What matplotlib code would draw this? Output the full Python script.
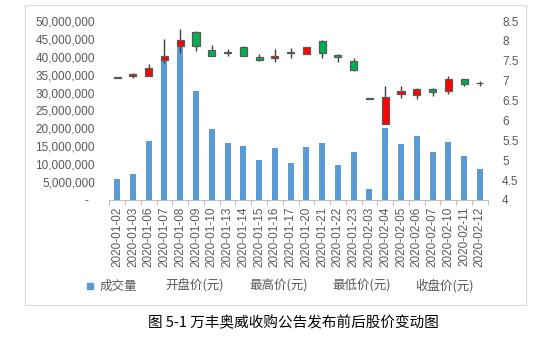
import matplotlib.pyplot as plt
import matplotlib.patches as mpatches
from matplotlib.ticker import FuncFormatter, FixedLocator

plt.rcParams['font.family'] = ['Liberation Sans', 'Noto Sans CJK SC', 'DejaVu Sans']

# 交易日
dates = ['2020-01-02', '2020-01-03', '2020-01-06', '2020-01-07', '2020-01-08', '2020-01-09',
         '2020-01-10', '2020-01-13', '2020-01-14', '2020-01-15', '2020-01-16', '2020-01-17',
         '2020-01-20', '2020-01-21', '2020-01-22', '2020-01-23', '2020-02-03', '2020-02-04',
         '2020-02-05', '2020-02-06', '2020-02-07', '2020-02-10', '2020-02-11', '2020-02-12']

# 成交量(股)
volume = [5.85e6, 7.3e6, 16.4e6, 40.1e6, 43.5e6, 30.4e6,
          19.8e6, 15.9e6, 15.2e6, 11.2e6, 14.5e6, 10.3e6,
          14.7e6, 15.8e6, 9.7e6, 13.5e6, 3.0e6, 20.1e6,
          15.7e6, 18.0e6, 13.3e6, 16.3e6, 12.2e6, 8.6e6]

# 开盘价 / 最高价 / 最低价 / 收盘价(元)
open_p = [7.07, 7.11, 7.11, 7.52, 7.86, 8.23, 7.76, 7.70, 7.85, 7.59, 7.56, 7.70,
          7.67, 8.00, 7.65, 7.50, 6.55, 5.90, 6.66, 6.64, 6.80, 6.73, 7.03, 6.93]
high_p = [7.09, 7.19, 7.42, 8.06, 8.31, 8.25, 7.89, 7.80, 7.87, 7.67, 7.79, 7.81,
          7.85, 8.03, 7.66, 7.58, 6.55, 6.86, 6.86, 6.81, 6.81, 7.12, 7.03, 6.98]
low_p = [7.06, 7.07, 7.11, 7.45, 7.69, 7.74, 7.63, 7.61, 7.62, 7.50, 7.48, 7.58,
         7.66, 7.57, 7.46, 7.24, 6.55, 5.90, 6.57, 6.55, 6.61, 6.66, 6.86, 6.86]
close_p = [7.09, 7.18, 7.32, 7.63, 8.01, 7.86, 7.63, 7.72, 7.62, 7.53, 7.63, 7.72,
           7.84, 7.70, 7.60, 7.27, 6.56, 6.60, 6.73, 6.79, 6.72, 7.05, 6.91, 6.95]

legend_labels = ['成交量', '开盘价(元)', '最高价(元)', '最低价(元)', '收盘价(元)']

W, H = 541, 337
fig = plt.figure(figsize=(W / 100, H / 100), dpi=100)
ax = fig.add_axes([109.3 / W, 1 - 200 / H, 378.4 / W, 179 / H])
ax2 = ax.twinx()

x = list(range(len(dates)))
grey = '#595959'

# 成交量柱
ax.bar(x, volume, width=0.38, color='#5B9BD5', zorder=2)
ax.set_ylim(0, 50e6)
ax.set_xlim(-0.5, len(dates) - 0.5)
ax.yaxis.set_major_locator(FixedLocator([i * 5e6 for i in range(11)]))
ax.yaxis.set_major_formatter(FuncFormatter(lambda v, p: '-  ' if v == 0 else f'{v:,.0f}'))

# K线
for i in x:
    o, h, l, c = open_p[i], high_p[i], low_p[i], close_p[i]
    ax2.vlines(i, l, h, color='#404040', linewidth=1.0, zorder=2)
    col = '#FF0000' if c >= o else '#00B050'
    ax2.bar(i, c - o, bottom=o, width=0.45, color=col, edgecolor=grey,
            linewidth=0.9, zorder=3)
ax2.set_ylim(4, 8.5)
ax2.yaxis.set_major_locator(FixedLocator([4 + 0.5 * i for i in range(10)]))
ax2.yaxis.set_major_formatter(FuncFormatter(lambda v, p: f'{v:g}'))

ax.set_xticks(x)
ax.set_xticklabels(dates, rotation=90)
ax.set_xticks([i - 0.5 for i in range(len(dates) + 1)], minor=True)
ax.tick_params(axis='x', which='major', length=0, pad=5, labelsize=8.5, labelcolor=grey)
ax.tick_params(axis='x', which='minor', length=3.5, width=0.8, color='#BFBFBF')
ax.tick_params(axis='y', length=0, pad=10.3, labelsize=8.5, labelcolor=grey)
ax2.tick_params(axis='y', length=0, pad=10.3, labelsize=8.5, labelcolor=grey)

for a in (ax, ax2):
    for s in ('top', 'left', 'right'):
        a.spines[s].set_visible(False)
    a.spines['bottom'].set_color('#BFBFBF')
    a.spines['bottom'].set_linewidth(0.8)
ax2.spines['bottom'].set_visible(False)

# 外框
fig.patches.append(mpatches.Rectangle((25 / W, 1 - 305 / H), 501 / W, 300 / H,
                                      transform=fig.transFigure, fill=False,
                                      edgecolor='#D9D9D9', linewidth=0.8))

# 图例
fig.patches.append(mpatches.Rectangle((86.5 / W, 1 - 289 / H), 6 / W, 6 / H,
                                      transform=fig.transFigure, color='#5B9BD5'))
for lx, lab in zip([100, 165, 249, 332, 415], legend_labels):
    fig.text(lx / W, 1 - 286 / H, lab, ha='left', va='center', fontsize=9,
             color=grey, family=['Noto Sans CJK SC', 'DejaVu Sans'])

fig.text(293 / W, 1 - 323 / H, '图 5-1 万丰奥威收购公告发布前后股价变动图',
         ha='center', va='center', fontsize=10.5, color='black',
         family=['Noto Sans CJK SC', 'DejaVu Sans'])

fig.savefig('out.png', dpi=100)
